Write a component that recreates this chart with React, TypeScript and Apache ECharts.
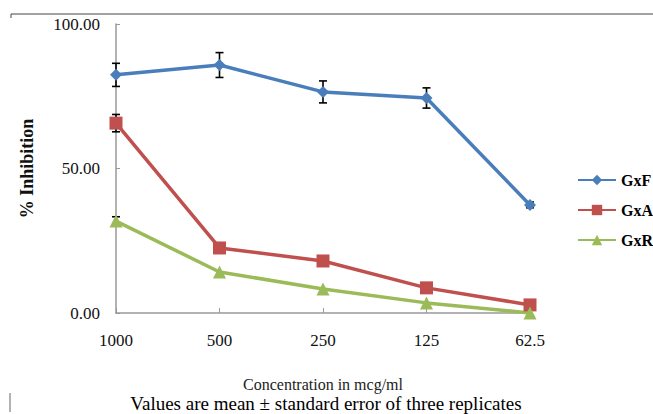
import React, { useEffect, useRef } from "react";
import * as echarts from "echarts";

const categories = ["1000", "500", "250", "125", "62.5"];
const gxF = [82.4, 85.8, 76.5, 74.4, 37.4];
const gxFErr = [4.0, 4.3, 3.8, 3.5, 1.0];
const gxA = [65.7, 22.5, 18.0, 8.7, 2.8];
const gxAErr = [3.0, 0, 0, 0, 0];
const gxR = [31.8, 14.2, 8.3, 3.5, 0.0];
const gxRErr = [1.5, 0, 0, 0, 0];
const yTicks = [0, 50, 100];

const SERIF = "'Times New Roman', 'Liberation Serif', serif";

function errData(vals: number[], errs: number[]) {
  return vals
    .map((v, i) => [i, v - errs[i], v + errs[i]])
    .filter((d, i) => errs[i] > 0);
}

function errSeries(vals: number[], errs: number[]) {
  return {
    type: "custom",
    silent: true,
    z: 1,
    data: errData(vals, errs),
    renderItem: (params: any, api: any) => {
      const x = api.value(0);
      const lo = api.coord([x, api.value(1)]);
      const hi = api.coord([x, api.value(2)]);
      const w = 4;
      const style = { stroke: "#000", lineWidth: 1.6 };
      return {
        type: "group",
        children: [
          { type: "line", shape: { x1: lo[0], y1: lo[1], x2: hi[0], y2: hi[1] }, style },
          { type: "line", shape: { x1: lo[0] - w, y1: lo[1], x2: lo[0] + w, y2: lo[1] }, style },
          { type: "line", shape: { x1: hi[0] - w, y1: hi[1], x2: hi[0] + w, y2: hi[1] }, style },
        ],
      };
    },
  };
}

export default function App() {
  const ref = useRef<HTMLDivElement>(null);
  useEffect(() => {
    const chart = echarts.init(ref.current!, null, { renderer: "svg" });
    chart.setOption({
      animation: false,
      backgroundColor: "#fff",
      grid: { left: 116, right: 123, top: 24, bottom: 101 },
      legend: {
        orient: "vertical",
        left: 572,
        top: 167,
        itemGap: 14,
        itemWidth: 38,
        itemHeight: 13,
        data: ["GxF", "GxA", "GxR"],
        textStyle: { fontFamily: SERIF, fontWeight: "bold", fontSize: 16, color: "#000" },
      },
      xAxis: {
        type: "category",
        data: categories,
        boundaryGap: false,
        axisLine: { lineStyle: { color: "#999", width: 1.5 } },
        axisTick: { inside: true, length: 5, lineStyle: { color: "#999" } },
        axisLabel: { fontFamily: SERIF, fontSize: 17, color: "#111", margin: 19 },
        name: "Concentration in mcg/ml",
        nameLocation: "middle",
        nameGap: 63,
        nameTextStyle: { fontFamily: SERIF, fontSize: 16, color: "#222" },
      },
      yAxis: {
        type: "value",
        min: 0,
        max: 100,
        interval: 50,
        splitLine: { show: false },
        axisLine: { show: true, lineStyle: { color: "#999", width: 1.5 } },
        axisTick: { show: true, inside: true, length: 4, lineStyle: { color: "#999" } },
        axisLabel: {
          fontFamily: SERIF,
          fontSize: 17,
          color: "#111",
          margin: 16,
          formatter: (v: number) => (yTicks.includes(v) ? v.toFixed(2) : ""),
        },
        name: "% Inhibition",
        nameLocation: "middle",
        nameGap: 80,
        nameTextStyle: { fontFamily: SERIF, fontSize: 18, fontWeight: "bold", color: "#111" },
      },
      graphic: [
        { type: "line", shape: { x1: 11, y1: 14, x2: 653, y2: 14 }, style: { stroke: "#444", lineWidth: 1 } },
        { type: "line", shape: { x1: 11, y1: 14, x2: 11, y2: 18 }, style: { stroke: "#444", lineWidth: 1 } },
        { type: "line", shape: { x1: 10, y1: 393, x2: 10, y2: 412 }, style: { stroke: "#666", lineWidth: 1 } },
        {
          type: "text",
          x: 326,
          y: 403,
          style: {
            text: "Values are mean \u00b1 standard error of three replicates",
            fontFamily: SERIF,
            fontSize: 19,
            fill: "#000",
            textAlign: "center",
            textVerticalAlign: "middle",
          },
        },
      ],
      series: [
        {
          name: "GxF",
          type: "line",
          data: gxF,
          symbol: "diamond",
          symbolSize: 12,
          z: 3,
          lineStyle: { color: "#4a7ebb", width: 3.5 },
          itemStyle: { color: "#4a7ebb" },
        },
        {
          name: "GxA",
          type: "line",
          data: gxA,
          symbol: "rect",
          symbolSize: 13,
          z: 3,
          lineStyle: { color: "#c0504d", width: 3.5 },
          itemStyle: { color: "#c0504d" },
        },
        {
          name: "GxR",
          type: "line",
          data: gxR,
          symbol: "triangle",
          symbolSize: 13,
          z: 3,
          lineStyle: { color: "#9bbb59", width: 3.5 },
          itemStyle: { color: "#9bbb59" },
        },
        errSeries(gxF, gxFErr),
        errSeries(gxA, gxAErr),
        errSeries(gxR, gxRErr),
      ],
    });
    return () => chart.dispose();
  }, []);
  return <div ref={ref} style={{ width: 653, height: 414, position: "absolute", left: 0, top: 0 }} />;
}
